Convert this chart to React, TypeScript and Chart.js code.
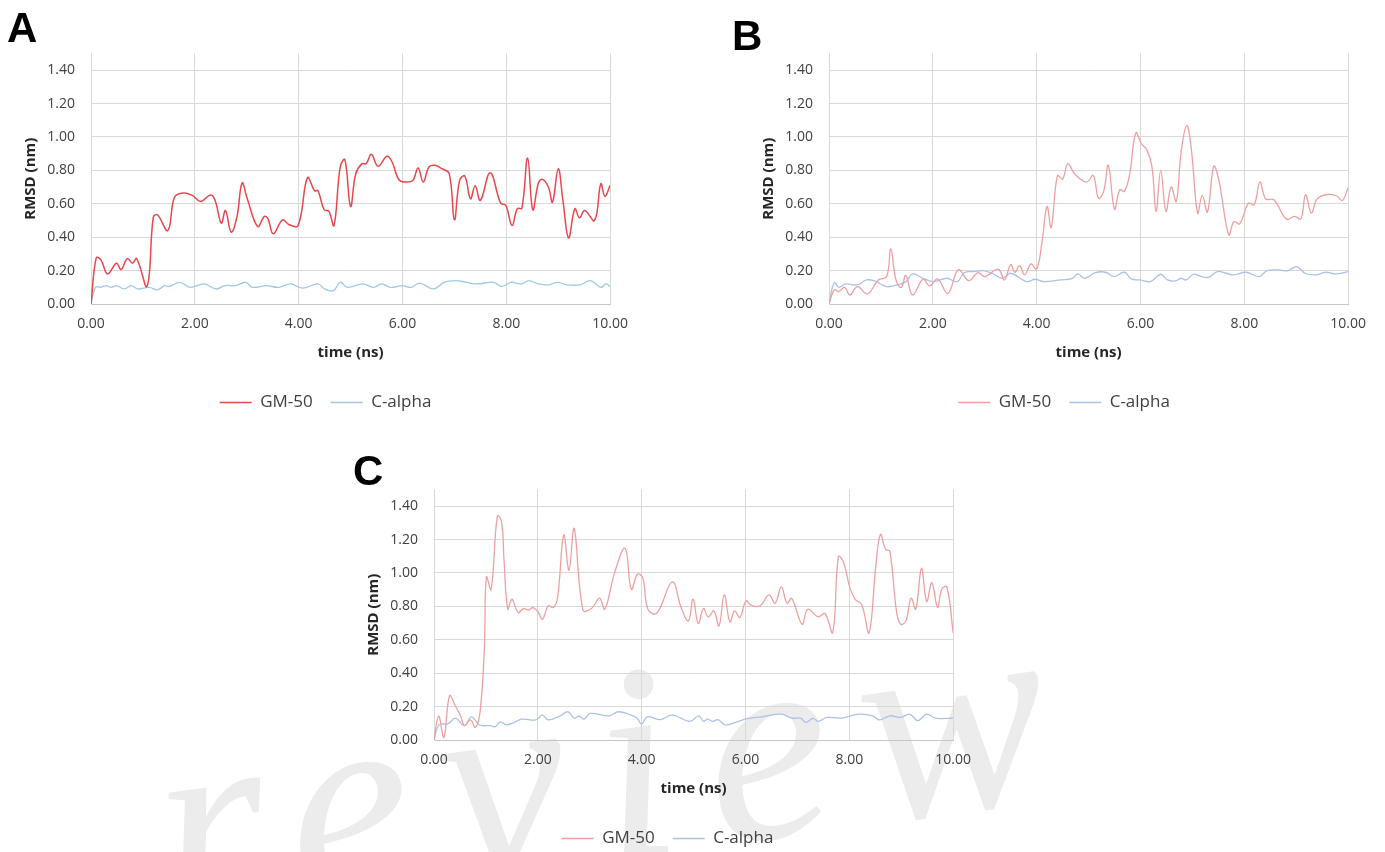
import React, { useEffect, useRef } from "react";
import { Chart, registerables } from "chart.js";

Chart.register(...registerables);

// ---------- Panel A ----------
const timeA_GM = [0, 0.1, 0.19, 0.32, 0.49, 0.58, 0.7, 0.8, 0.88, 1.08, 1.2, 1.28, 1.48, 1.61, 1.78, 1.95, 2.11, 2.3, 2.39, 2.51, 2.59, 2.7, 2.81, 2.91, 3.01, 3.21, 3.34, 3.41, 3.51, 3.69, 3.81, 3.99, 4.17, 4.31, 4.37, 4.49, 4.58, 4.68, 4.8, 4.89, 5.0, 5.1, 5.22, 5.3, 5.4, 5.53, 5.7, 5.8, 5.93, 6.07, 6.2, 6.3, 6.4, 6.51, 6.63, 6.76, 6.9, 7.0, 7.1, 7.2, 7.31, 7.4, 7.5, 7.69, 7.89, 7.99, 8.11, 8.21, 8.3, 8.41, 8.51, 8.62, 8.7, 8.81, 8.89, 9.0, 9.09, 9.2, 9.32, 9.41, 9.51, 9.7, 9.82, 9.9, 10.0];
const rmsdA_GM = [0, 0.276, 0.264, 0.18, 0.244, 0.206, 0.272, 0.244, 0.272, 0.106, 0.52, 0.534, 0.44, 0.64, 0.664, 0.65, 0.614, 0.652, 0.62, 0.484, 0.56, 0.43, 0.52, 0.724, 0.63, 0.464, 0.524, 0.51, 0.42, 0.504, 0.476, 0.47, 0.756, 0.676, 0.68, 0.564, 0.556, 0.47, 0.82, 0.864, 0.584, 0.78, 0.84, 0.84, 0.896, 0.824, 0.884, 0.85, 0.744, 0.73, 0.74, 0.814, 0.73, 0.82, 0.83, 0.81, 0.78, 0.504, 0.74, 0.766, 0.63, 0.708, 0.62, 0.786, 0.604, 0.59, 0.47, 0.57, 0.574, 0.874, 0.564, 0.726, 0.746, 0.7, 0.61, 0.81, 0.62, 0.396, 0.57, 0.516, 0.56, 0.5, 0.72, 0.644, 0.71];
const timeA_CA = [0, 0.09, 0.19, 0.29, 0.39, 0.49, 0.64, 0.78, 0.9, 1.12, 1.28, 1.42, 1.51, 1.71, 1.91, 2.18, 2.41, 2.58, 2.78, 2.98, 3.11, 3.38, 3.61, 3.84, 4.07, 4.37, 4.5, 4.67, 4.8, 4.94, 5.24, 5.44, 5.6, 5.77, 6.0, 6.17, 6.33, 6.6, 6.8, 7.03, 7.23, 7.43, 7.76, 7.91, 8.09, 8.29, 8.43, 8.62, 8.82, 8.99, 9.16, 9.42, 9.62, 9.82, 9.92, 10.0];
const rmsdA_CA = [0, 0.1, 0.1, 0.11, 0.1, 0.11, 0.09, 0.11, 0.09, 0.1, 0.085, 0.11, 0.105, 0.13, 0.1, 0.12, 0.09, 0.11, 0.11, 0.13, 0.1, 0.11, 0.1, 0.12, 0.095, 0.12, 0.09, 0.08, 0.13, 0.1, 0.12, 0.1, 0.12, 0.1, 0.11, 0.1, 0.125, 0.09, 0.13, 0.14, 0.13, 0.12, 0.13, 0.105, 0.13, 0.12, 0.14, 0.12, 0.115, 0.13, 0.115, 0.115, 0.14, 0.1, 0.12, 0.105];

// ---------- Panel B ----------
const timeB_GM = [0, 0.1, 0.19, 0.3, 0.4, 0.55, 0.74, 0.95, 1.11, 1.19, 1.29, 1.39, 1.48, 1.61, 1.81, 1.94, 2.09, 2.29, 2.49, 2.69, 2.87, 3.0, 3.26, 3.38, 3.5, 3.58, 3.67, 3.77, 3.89, 4.0, 4.1, 4.2, 4.28, 4.4, 4.5, 4.6, 4.73, 4.96, 5.09, 5.19, 5.29, 5.38, 5.5, 5.6, 5.69, 5.79, 5.91, 6.02, 6.12, 6.22, 6.3, 6.39, 6.49, 6.59, 6.69, 6.78, 6.89, 6.98, 7.1, 7.19, 7.29, 7.41, 7.51, 7.7, 7.8, 7.91, 8.08, 8.19, 8.3, 8.41, 8.57, 8.81, 8.97, 9.09, 9.18, 9.29, 9.4, 9.57, 9.77, 9.89, 10.0];
const rmsdB_GM = [0, 0.084, 0.074, 0.1, 0.054, 0.104, 0.06, 0.144, 0.164, 0.33, 0.144, 0.098, 0.17, 0.054, 0.148, 0.108, 0.15, 0.064, 0.204, 0.14, 0.188, 0.164, 0.208, 0.144, 0.236, 0.19, 0.23, 0.174, 0.24, 0.208, 0.364, 0.584, 0.458, 0.768, 0.748, 0.84, 0.78, 0.73, 0.77, 0.634, 0.674, 0.83, 0.568, 0.684, 0.674, 0.774, 1.024, 0.958, 0.924, 0.824, 0.554, 0.8, 0.554, 0.7, 0.614, 0.904, 1.068, 0.924, 0.544, 0.65, 0.55, 0.824, 0.74, 0.414, 0.494, 0.48, 0.604, 0.594, 0.73, 0.63, 0.624, 0.508, 0.524, 0.51, 0.654, 0.544, 0.628, 0.654, 0.648, 0.62, 0.698];
const timeB_CA = [0, 0.1, 0.19, 0.32, 0.55, 0.72, 0.88, 1.11, 1.31, 1.48, 1.61, 1.81, 2.01, 2.27, 2.47, 2.61, 2.8, 2.97, 3.14, 3.34, 3.5, 3.8, 3.97, 4.13, 4.46, 4.69, 4.79, 4.93, 5.13, 5.33, 5.49, 5.69, 5.82, 5.99, 6.19, 6.39, 6.52, 6.68, 6.78, 6.88, 7.02, 7.18, 7.31, 7.48, 7.65, 7.78, 8.04, 8.28, 8.44, 8.64, 8.84, 9.01, 9.17, 9.37, 9.57, 9.77, 10.0];
const rmsdB_CA = [0, 0.128, 0.1, 0.12, 0.114, 0.144, 0.138, 0.104, 0.114, 0.134, 0.18, 0.154, 0.134, 0.154, 0.134, 0.188, 0.194, 0.2, 0.184, 0.154, 0.184, 0.134, 0.148, 0.134, 0.144, 0.154, 0.18, 0.154, 0.188, 0.19, 0.164, 0.19, 0.15, 0.144, 0.134, 0.178, 0.144, 0.138, 0.154, 0.144, 0.178, 0.164, 0.16, 0.194, 0.184, 0.174, 0.19, 0.164, 0.2, 0.204, 0.2, 0.224, 0.184, 0.174, 0.19, 0.18, 0.194];

// ---------- Panel C ----------
const timeC_GM = [0, 0.09, 0.19, 0.3, 0.41, 0.51, 0.59, 0.7, 0.8, 0.89, 0.97, 1.01, 1.1, 1.22, 1.3, 1.35, 1.42, 1.5, 1.62, 1.72, 1.82, 1.91, 2.01, 2.09, 2.2, 2.3, 2.38, 2.5, 2.6, 2.7, 2.87, 3.04, 3.19, 3.29, 3.48, 3.68, 3.8, 3.92, 4.02, 4.12, 4.29, 4.59, 4.76, 4.9, 4.99, 5.09, 5.19, 5.28, 5.39, 5.49, 5.59, 5.7, 5.79, 5.89, 6.01, 6.11, 6.28, 6.45, 6.57, 6.69, 6.8, 6.89, 7.09, 7.2, 7.4, 7.53, 7.68, 7.79, 7.89, 8.01, 8.11, 8.24, 8.38, 8.51, 8.6, 8.7, 8.78, 8.91, 8.99, 9.09, 9.19, 9.28, 9.39, 9.49, 9.59, 9.7, 9.78, 9.88, 10.0];
const rmsdC_GM = [0, 0.143, 0.016, 0.265, 0.205, 0.145, 0.086, 0.12, 0.076, 0.175, 0.55, 0.976, 0.9, 1.34, 1.31, 1.07, 0.783, 0.843, 0.763, 0.787, 0.777, 0.793, 0.763, 0.723, 0.803, 0.793, 0.853, 1.227, 1.016, 1.265, 0.777, 0.789, 0.849, 0.783, 1.002, 1.147, 0.902, 0.992, 0.972, 0.783, 0.759, 0.946, 0.793, 0.713, 0.843, 0.697, 0.787, 0.737, 0.773, 0.683, 0.869, 0.707, 0.773, 0.733, 0.833, 0.807, 0.803, 0.869, 0.819, 0.916, 0.819, 0.847, 0.693, 0.783, 0.737, 0.757, 0.643, 1.098, 1.062, 0.912, 0.843, 0.809, 0.643, 1.042, 1.231, 1.141, 1.131, 0.767, 0.693, 0.713, 0.849, 0.783, 1.028, 0.829, 0.942, 0.793, 0.902, 0.916, 0.643];
const timeC_CA = [0, 0.1, 0.27, 0.41, 0.59, 0.72, 0.88, 1.08, 1.18, 1.28, 1.39, 1.55, 1.69, 1.96, 2.09, 2.2, 2.43, 2.58, 2.7, 2.8, 2.89, 3.01, 3.38, 3.55, 3.78, 3.91, 4.0, 4.11, 4.36, 4.59, 4.93, 5.1, 5.19, 5.27, 5.37, 5.47, 5.61, 5.81, 6.05, 6.32, 6.69, 6.89, 7.06, 7.16, 7.3, 7.4, 7.57, 7.84, 8.01, 8.21, 8.45, 8.58, 8.78, 8.99, 9.16, 9.32, 9.49, 9.66, 9.86, 10.0];
const rmsdC_CA = [0, 0.092, 0.096, 0.131, 0.086, 0.139, 0.09, 0.086, 0.08, 0.108, 0.09, 0.106, 0.125, 0.12, 0.149, 0.12, 0.145, 0.169, 0.131, 0.143, 0.125, 0.159, 0.145, 0.169, 0.151, 0.131, 0.096, 0.139, 0.122, 0.149, 0.112, 0.145, 0.112, 0.125, 0.112, 0.122, 0.09, 0.106, 0.129, 0.139, 0.155, 0.131, 0.131, 0.106, 0.129, 0.112, 0.135, 0.131, 0.143, 0.155, 0.145, 0.12, 0.145, 0.135, 0.155, 0.116, 0.155, 0.131, 0.129, 0.131];

// Axis ticks and legend text
const seriesNames = ["GM-50", "C-alpha"];
const xTitle = "time (ns)";
const yTitle = "RMSD (nm)";
const xMin = 0, xMax = 10, xStep = 2;
const yMin = 0, yMax = 1.5, yStep = 0.2, yLastLabel = 1.4;

const FONT = "'Open Sans', 'Liberation Sans', sans-serif";

// Shifts the legend horizontally so it sits under the whole figure block
const legendOffset = {
  id: "legendOffset",
  afterLayout(chart: any, _args: any, opts: any) {
    const lg = chart.legend;
    if (!lg || !opts || !opts.dx) return;
    lg.left += opts.dx;
    lg.right += opts.dx;
  },
};

type PanelProps = {
  left: number;
  top: number;
  gm: [number[], number[]];
  ca: [number[], number[]];
  gmColor: string;
  caColor: string;
  gmWidth: number;
  legendDx: number;
};

const CANVAS_W = 625;
const CANVAS_H = 392;

function toPoints(t: number[], v: number[]) {
  return t.map((x, i) => ({ x, y: v[i] }));
}

function RmsdPanel(p: PanelProps) {
  const ref = useRef<HTMLCanvasElement | null>(null);
  useEffect(() => {
    if (!ref.current) return;
    const chart = new Chart(ref.current, {
      type: "line",
      data: {
        datasets: [
          {
            label: seriesNames[0],
            data: toPoints(p.gm[0], p.gm[1]),
            borderColor: p.gmColor,
            backgroundColor: p.gmColor,
            borderWidth: p.gmWidth,
            pointRadius: 0,
            tension: 0.4,
            fill: false,
          },
          {
            label: seriesNames[1],
            data: toPoints(p.ca[0], p.ca[1]),
            borderColor: p.caColor,
            backgroundColor: p.caColor,
            borderWidth: 1.3,
            pointRadius: 0,
            tension: 0.4,
            fill: false,
          },
        ],
      },
      options: {
        animation: false,
        responsive: false,
        maintainAspectRatio: false,
        devicePixelRatio: 1,
        layout: { padding: { top: 10, right: 25, left: 0, bottom: 0 } },
        scales: {
          x: {
            type: "linear",
            min: xMin,
            max: xMax,
            ticks: {
              stepSize: xStep,
              maxRotation: 0,
              autoSkip: false,
              padding: 12,
              color: "#404040",
              font: { family: FONT, size: 14 },
              callback: (v: any) => Number(v).toFixed(2),
            },
            grid: { color: "#d9d9d9", lineWidth: 1, drawTicks: false },
            border: { color: "#c6c6c6", width: 1 },
            title: {
              display: true,
              text: xTitle,
              color: "#262626",
              font: { family: FONT, size: 15, weight: "bold" },
              padding: { top: 0, bottom: 14 },
            },
            afterFit: (s: any) => {
              s.height = 72;
            },
          },
          y: {
            type: "linear",
            min: yMin,
            max: yMax,
            ticks: {
              stepSize: yStep,
              includeBounds: false,
              padding: 16,
              color: "#404040",
              font: { family: FONT, size: 14 },
              callback: (v: any) => Number(v).toFixed(2),
            },
            afterBuildTicks: (s: any) => {
              s.ticks = s.ticks.filter((t: any) => t.value <= yLastLabel + 0.01);
            },
            grid: { color: "#d9d9d9", lineWidth: 1, drawTicks: false },
            border: { color: "#d9d9d9", width: 1 },
            title: {
              display: true,
              text: yTitle,
              color: "#262626",
              font: { family: FONT, size: 15, weight: "bold" },
              padding: { top: 7, bottom: 0 },
            },
            afterFit: (s: any) => {
              s.width = 76;
            },
          },
        },
        plugins: {
          tooltip: { enabled: false },
          legend: {
            position: "bottom",
            labels: {
              usePointStyle: true,
              pointStyle: "line",
              pointStyleWidth: 32,
              padding: 18,
              color: "#404040",
              font: { family: FONT, size: 17 },
              generateLabels: (c: any) =>
                c.data.datasets.map((ds: any, i: number) => ({
                  text: ds.label,
                  fillStyle: ds.borderColor,
                  strokeStyle: ds.borderColor,
                  lineWidth: 1.5,
                  pointStyle: "line",
                  fontColor: "#404040",
                  hidden: false,
                  datasetIndex: i,
                })),
            },
          },
          legendOffset: { dx: p.legendDx },
        } as any,
      },
      plugins: [legendOffset],
    } as any);
    return () => chart.destroy();
  }, []);
  return (
    <div style={{ position: "absolute", left: p.left, top: p.top, width: CANVAS_W, height: CANVAS_H }}>
      <canvas ref={ref} width={CANVAS_W} height={CANVAS_H} style={{ width: CANVAS_W, height: CANVAS_H, display: "block" }} />
    </div>
  );
}

const panelLetter: React.CSSProperties = {
  position: "absolute",
  fontFamily: "'Liberation Sans', Arial, sans-serif",
  fontWeight: 700,
  fontSize: 42,
  lineHeight: "42px",
  color: "#000",
};

export default function App() {
  return (
    <div
      style={{
        position: "absolute",
        left: 0,
        top: 0,
        width: 1385,
        height: 852,
        overflow: "hidden",
        background: "#fff",
      }}
    >
      {/* faint diagonal watermark behind the charts */}
      <div
        style={{
          position: "absolute",
          left: 176,
          top: 688,
          fontFamily: "'Liberation Serif', 'DejaVu Serif', serif",
          fontStyle: "italic",
          fontSize: 280,
          lineHeight: 1,
          letterSpacing: 32,
          color: "#ececec",
          whiteSpace: "nowrap",
          transform: "rotate(-8deg)",
          transformOrigin: "0 100%",
          pointerEvents: "none",
        }}
      >
        review
      </div>

      <RmsdPanel
        left={15}
        top={29}
        gm={[timeA_GM, rmsdA_GM]}
        ca={[timeA_CA, rmsdA_CA]}
        gmColor="#e8474c"
        caColor="#9ecae3"
        gmWidth={1.5}
        legendDx={10.5}
      />
      <RmsdPanel
        left={753}
        top={29}
        gm={[timeB_GM, rmsdB_GM]}
        ca={[timeB_CA, rmsdB_CA]}
        gmColor="#f0a0a0"
        caColor="#abc3e6"
        gmWidth={1.3}
        legendDx={11}
      />
      <RmsdPanel
        left={358}
        top={465}
        gm={[timeC_GM, rmsdC_GM]}
        ca={[timeC_CA, rmsdC_CA]}
        gmColor="#f0a0a0"
        caColor="#abc3e6"
        gmWidth={1.3}
        legendDx={9.5}
      />

      <div style={{ ...panelLetter, left: 7, top: 7 }}>A</div>
      <div style={{ ...panelLetter, left: 732, top: 15 }}>B</div>
      <div style={{ ...panelLetter, left: 353, top: 450 }}>C</div>
    </div>
  );
}
